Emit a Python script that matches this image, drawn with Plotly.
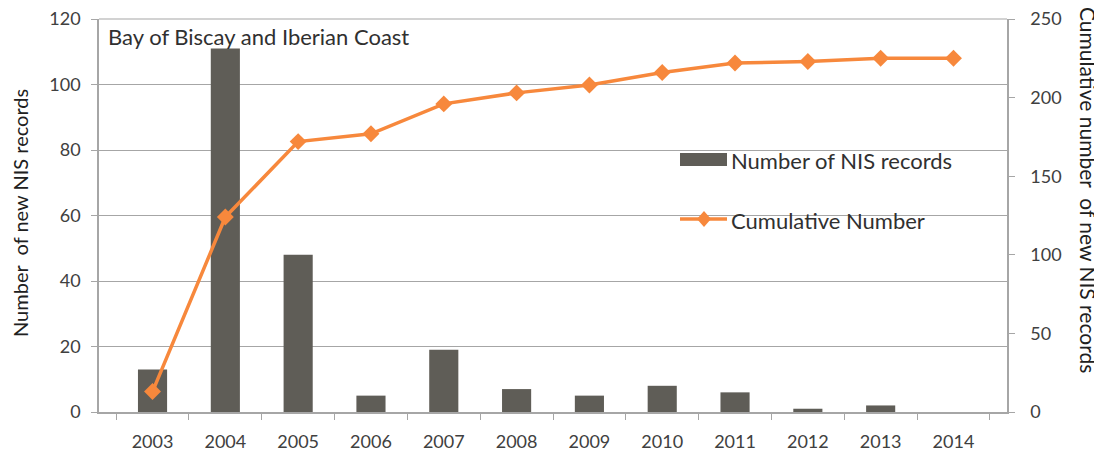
import plotly.graph_objects as go

years = ["2003", "2004", "2005", "2006", "2007", "2008", "2009", "2010", "2011", "2012", "2013", "2014"]
new_records = [13, 111, 48, 5, 19, 7, 5, 8, 6, 1, 2, 0]
cumulative = [13, 124, 172, 177, 196, 203, 208, 216, 222, 223, 225, 225]

FONT = "Lato"
GRID = "#a6a6a6"
TXT = "#404040"
BAR_C = "#5f5d57"
LINE_C = "#f7883c"

# page body has an 8px margin; compensate so the plot lands where wanted on screen
OFF = 8
W, H = 1102, 454
L, R, T, B = 99 - OFF, 95 + OFF, 19 - OFF, 42 + OFF
PW, PH = W - L - R, H - T - B


def px(x):
    return (x - OFF - L) / PW


def py(y):
    return (H - B - (y - OFF)) / PH


fig = go.Figure()
fig.add_trace(go.Bar(
    x=years, y=new_records, name="Number of NIS records",
    marker=dict(color=BAR_C, line=dict(width=0)), yaxis="y",
))
fig.add_trace(go.Scatter(
    x=years, y=cumulative, name="Cumulative Number", mode="lines+markers",
    line=dict(color=LINE_C, width=3.5),
    marker=dict(symbol="diamond", size=13, color=LINE_C),
    yaxis="y2",
))

# manual legend
dx, dy = 7 / PW, 8 / PH
shapes = [
    dict(type="rect", xref="paper", yref="paper", x0=px(680), x1=px(727), y0=py(166), y1=py(153),
         fillcolor=BAR_C, line=dict(width=0)),
    dict(type="line", xref="paper", yref="paper", x0=px(680), x1=px(727), y0=py(219), y1=py(219),
         line=dict(color=LINE_C, width=3.5)),
    dict(type="path", xref="paper", yref="paper",
         path=f"M {px(704)-dx},{py(219)} L {px(704)},{py(219)+dy} L {px(704)+dx},{py(219)} L {px(704)},{py(219)-dy} Z",
         fillcolor=LINE_C, line=dict(width=0)),
    # top gridline at 120
    dict(type="line", xref="paper", yref="paper", x0=0, x1=1, y0=1, y1=1,
         line=dict(color=GRID, width=1.2), layer="below"),
]

fig.update_layout(
    width=W, height=H,
    margin=dict(l=L, r=R, t=T, b=B),
    paper_bgcolor="white", plot_bgcolor="white",
    font=dict(family=FONT, size=18, color=TXT),
    bargap=0.6,
    showlegend=False,
    xaxis=dict(type="category", showline=True, linecolor=GRID, linewidth=1.5,
               ticks="outside", tickson="boundaries", ticklen=6, tickcolor=GRID,
               showgrid=False, automargin=False, ticklabelstandoff=13,
               ticklabeloverflow="allow", tickfont=dict(size=18, color=TXT)),
    yaxis=dict(range=[0, 120], dtick=20, showline=True, linecolor=GRID, linewidth=1.5,
               ticks="outside", ticklen=6, tickcolor=GRID, showgrid=True,
               gridcolor=GRID, gridwidth=1.2, zeroline=False, automargin=False,
               ticklabelstandoff=7, ticklabeloverflow="allow",
               tickfont=dict(size=18, color=TXT)),
    yaxis2=dict(range=[0, 250], dtick=50, overlaying="y", side="right",
                showline=True, linecolor=GRID, linewidth=1.5, ticks="outside",
                ticklen=6, tickcolor=GRID, showgrid=False, zeroline=False, automargin=False,
                ticklabelstandoff=12, ticklabeloverflow="allow",
                tickfont=dict(size=18, color=TXT)),
    shapes=shapes,
    annotations=[
        dict(text="Bay of Biscay and Iberian Coast", x=px(106), y=py(36), xref="paper", yref="paper",
             xanchor="left", yanchor="middle", showarrow=False, font=dict(size=22, color="#303030")),
        dict(text="Number of NIS records", x=px(729), y=py(160), xref="paper", yref="paper",
             xanchor="left", yanchor="middle", showarrow=False, font=dict(size=22, color="#303030")),
        dict(text="Cumulative Number", x=px(729), y=py(220), xref="paper", yref="paper",
             xanchor="left", yanchor="middle", showarrow=False, font=dict(size=22, color="#303030")),
        dict(text="Number  of new NIS records", x=px(20), y=py(213), xref="paper", yref="paper",
             xanchor="center", yanchor="middle",
             textangle=-90, showarrow=False, font=dict(size=20, color="#202020")),
        dict(text="Cumulative number  of new NIS records", x=px(1088), y=py(190), xref="paper", yref="paper",
             xanchor="center", yanchor="middle",
             textangle=90, showarrow=False, font=dict(size=21, color="#202020")),
    ],
)

fig.write_html("out.html")
